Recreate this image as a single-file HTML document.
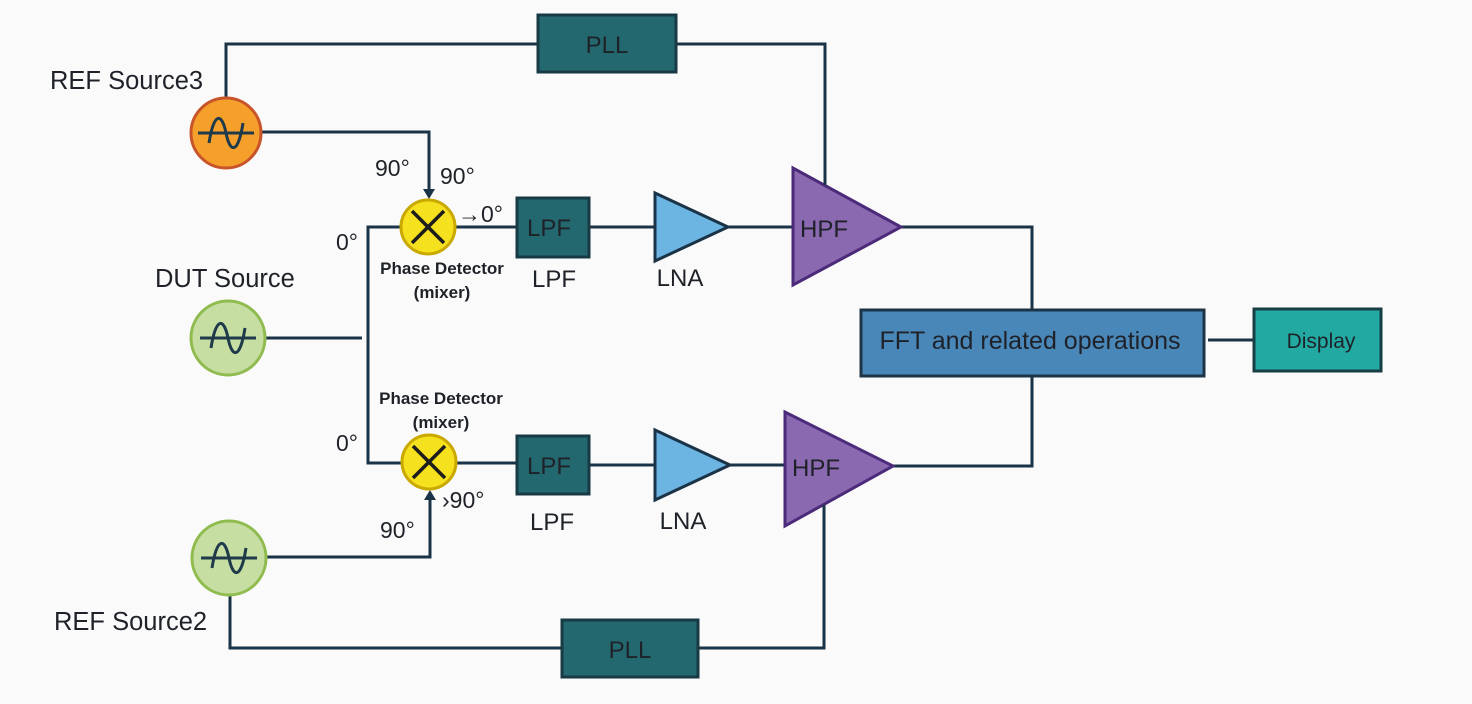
<!DOCTYPE html>
<html><head><meta charset="utf-8"><style>
html,body{margin:0;padding:0;background:#fafafa;}
svg{display:block;}
text{font-family:"Liberation Sans",sans-serif;fill:#1e2228;}
</style></head><body>
<svg width="1472" height="704" viewBox="0 0 1472 704" xmlns="http://www.w3.org/2000/svg">
<defs>
<g id="sine"><line x1="-28" y1="0" x2="28" y2="0" stroke="#1f3a4a" stroke-width="3"/>
<path d="M-17 10 C-12 -22 -4 -20 0 0 S 12 22 17 -10" fill="none" stroke="#1f3a4a" stroke-width="3"/></g>
<g id="mix"><circle r="27" fill="#f5e11d" stroke="#c9a800" stroke-width="3"/>
<line x1="-16" y1="-16" x2="16" y2="16" stroke="#1d1d1d" stroke-width="3.5"/>
<line x1="16" y1="-16" x2="-16" y2="16" stroke="#1d1d1d" stroke-width="3.5"/></g>
</defs>
<g fill="none" stroke="#1b3347" stroke-width="3">
<polyline points="226,98 226,44 538,44"/>
<polyline points="676,44 825,44 825,182"/>
<polyline points="262,132 429,132 429,192"/>
<line x1="266" y1="338" x2="362" y2="338"/>
<polyline points="402,227 368,227 368,463 402,463"/>
<line x1="456" y1="227" x2="517" y2="227"/>
<line x1="589" y1="227" x2="655" y2="227"/>
<line x1="728" y1="227" x2="793" y2="227"/>
<polyline points="901,227 1032,227 1032,310"/>
<line x1="456" y1="463" x2="517" y2="463"/>
<line x1="589" y1="465" x2="655" y2="465"/>
<line x1="730" y1="465" x2="785" y2="465"/>
<polyline points="893,466 1032,466 1032,376"/>
<line x1="1208" y1="340" x2="1254" y2="340"/>
<polyline points="267,557 430,557 430,498"/>
<polyline points="230,595 230,648 562,648"/>
<polyline points="698,648 824,648 824,505"/>
</g>
<polygon points="423,189 435,189 429,199" fill="#1b3347"/>
<polygon points="424,500 436,500 430,490" fill="#1b3347"/>
<circle cx="226" cy="133" r="35" fill="#f6a02c" stroke="#c8552a" stroke-width="3"/>
<use href="#sine" x="226" y="133"/>
<circle cx="228" cy="338" r="37" fill="#c7dea3" stroke="#8fbb4f" stroke-width="3"/>
<use href="#sine" x="228" y="338"/>
<circle cx="229" cy="558" r="37" fill="#c7dea3" stroke="#8fbb4f" stroke-width="3"/>
<use href="#sine" x="229" y="558"/>
<use href="#mix" x="428" y="227"/>
<use href="#mix" x="429" y="462"/>
<g stroke="#173a44" stroke-width="3" fill="#24686f">
<rect x="538" y="15" width="138" height="57"/>
<rect x="562" y="620" width="136" height="57"/>
<rect x="517" y="198" width="72" height="59"/>
<rect x="517" y="436" width="72" height="58"/>
</g>
<rect x="861" y="310" width="343" height="66" fill="#4a87b9" stroke="#1d3447" stroke-width="3"/>
<rect x="1254" y="309" width="127" height="62" fill="#22aaa2" stroke="#163e44" stroke-width="3"/>
<g stroke="#1b3347" stroke-width="3" fill="#6cb4e2">
<polygon points="655,193 655,261 728,227"/>
<polygon points="655,430 655,500 730,465"/>
</g>
<g stroke="#4b2a7a" stroke-width="3" fill="#8a69b0">
<polygon points="793,168 793,285 901,227"/>
<polygon points="785,412 785,526 893,466"/>
</g>
<line x1="825" y1="150" x2="825" y2="185" stroke="#1b3347" stroke-width="3"/>
<line x1="824" y1="505" x2="824" y2="520" stroke="#1b3347" stroke-width="3"/>
<g font-size="24" text-anchor="middle">
<text x="607" y="53">PLL</text>
<text x="630" y="658">PLL</text>
<text x="549" y="236">LPF</text>
<text x="549" y="474">LPF</text>
<text x="824" y="237">HPF</text>
<text x="816" y="476">HPF</text>
<text x="554" y="287">LPF</text>
<text x="552" y="530">LPF</text>
<text x="680" y="286">LNA</text>
<text x="683" y="529">LNA</text>
</g>
<text x="1030" y="349" text-anchor="middle" font-size="25">FFT and related operations</text>
<text x="1321" y="348" text-anchor="middle" font-size="21">Display</text>
<g font-size="25.5">
<text x="50" y="89">REF Source3</text>
<text x="155" y="287">DUT Source</text>
<text x="54" y="630">REF Source2</text>
</g>
<g font-size="23">
<text x="375" y="176">90°</text>
<text x="440" y="184">90°</text>
<text x="458" y="222">→0°</text>
<text x="336" y="250">0°</text>
<text x="336" y="451">0°</text>
<text x="380" y="538">90°</text>
<text x="442" y="508">›90°</text>
</g>
<g font-size="17" font-weight="bold" text-anchor="middle">
<text x="442" y="274">Phase Detector</text>
<text x="442" y="298">(mixer)</text>
<text x="441" y="404">Phase Detector</text>
<text x="441" y="428">(mixer)</text>
</g>
</svg>
</body></html>
